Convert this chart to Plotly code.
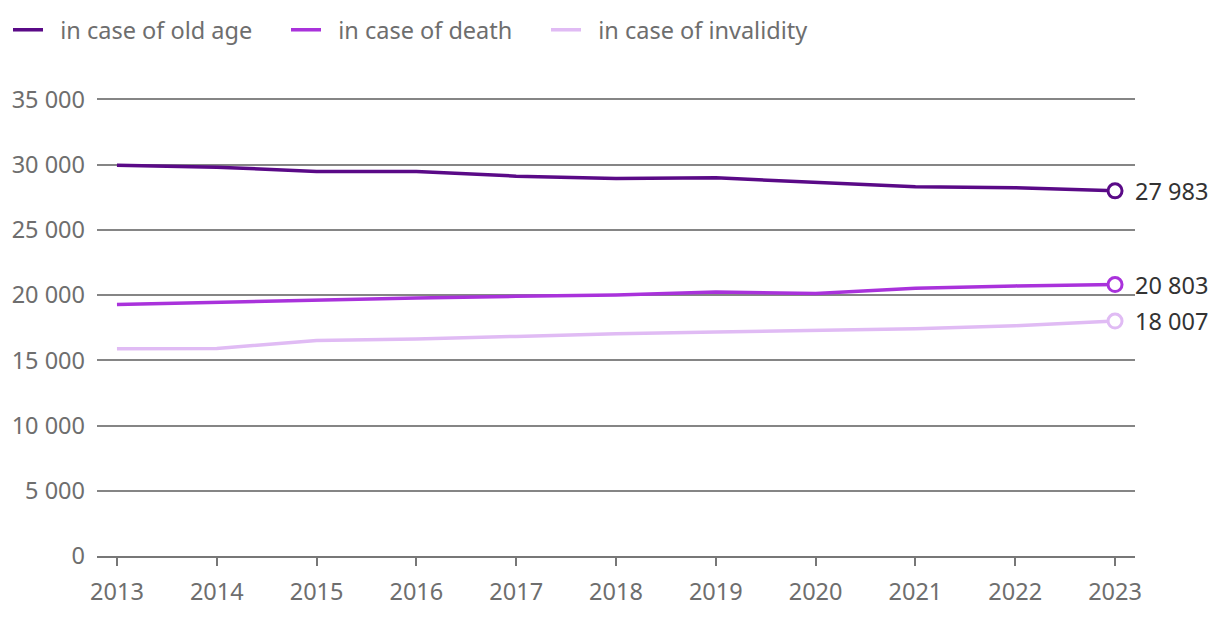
import plotly.graph_objects as go

years = [2013, 2014, 2015, 2016, 2017, 2018, 2019, 2020, 2021, 2022, 2023]
old_age = [29950, 29800, 29470, 29470, 29110, 28930, 28980, 28610, 28290, 28220, 27983]
death = [19270, 19460, 19650, 19780, 19900, 20000, 20240, 20110, 20520, 20700, 20803]
invalidity = [15890, 15910, 16520, 16630, 16830, 17040, 17160, 17310, 17410, 17650, 18007]

series_names = ["in case of old age", "in case of death", "in case of invalidity"]
series_values = [old_age, death, invalidity]
colors = ["#5a0a87", "#a932db", "#e0bbf4"]
legend_widths = [233, 215, 251]
y_ticks = [0, 5000, 10000, 15000, 20000, 25000, 30000, 35000]

FONT = "Noto Sans"
FS = 23.5
NBSP = "\u00a0"

def fmt(v):
    return f"{v:,}".replace(",", " ")

fig = go.Figure()
for name, vals, col, lw in zip(series_names, series_values, colors, legend_widths):
    fig.add_trace(go.Scatter(
        x=years, y=vals, name=NBSP * 2 + name, mode="lines",
        line=dict(color=col, width=3.5),
        hoverinfo="skip", legendwidth=lw,
    ))
for name, vals, col in zip(series_names, series_values, colors):
    fig.add_trace(go.Scatter(
        x=[years[-1]], y=[vals[-1]], mode="markers",
        marker=dict(symbol="circle", size=14, color="white",
                    line=dict(color=col, width=3)),
        showlegend=False, hoverinfo="skip", cliponaxis=False,
    ))
    fig.add_annotation(
        x=years[-1], y=vals[-1], text=fmt(vals[-1]), showarrow=False,
        xanchor="left", yanchor="middle", xshift=18,
        font=dict(family=FONT, size=FS, color="#333333"),
    )

fig.update_layout(
    width=1212, height=616,
    margin=dict(l=89, r=85, t=90, b=68, autoexpand=False),
    paper_bgcolor="white", plot_bgcolor="white",
    font=dict(family=FONT, size=FS, color="#6e6e6e"),
    showlegend=True,
    legend=dict(
        orientation="h", xref="container", yref="container",
        x=-0.003, y=1.0, xanchor="left", yanchor="top",
        font=dict(family=FONT, size=FS, color="#6e6e6e"),
        itemwidth=30, traceorder="normal",
        bgcolor="rgba(0,0,0,0)",
    ),
    xaxis=dict(
        range=[2012.8, 2023.2], tickmode="array", tickvals=years,
        ticktext=[str(y) for y in years],
        showgrid=False, zeroline=False, automargin=False,
        showline=True, linecolor="#777777", linewidth=2,
        ticks="outside", ticklen=8, tickwidth=1.5, tickcolor="#777777",
        tickfont=dict(family=FONT, size=FS, color="#6e6e6e"),
        ticklabelstandoff=6,
    ),
    yaxis=dict(
        range=[0, 35100], tickmode="array",
        tickvals=y_ticks, ticktext=[fmt(v) for v in y_ticks],
        showgrid=True, gridcolor="#858585", gridwidth=1.5,
        zeroline=False, showline=False, ticks="", automargin=False,
        tickfont=dict(family=FONT, size=FS, color="#6e6e6e"),
        ticklabelstandoff=11,
    ),
)

fig.write_html("out.html")
